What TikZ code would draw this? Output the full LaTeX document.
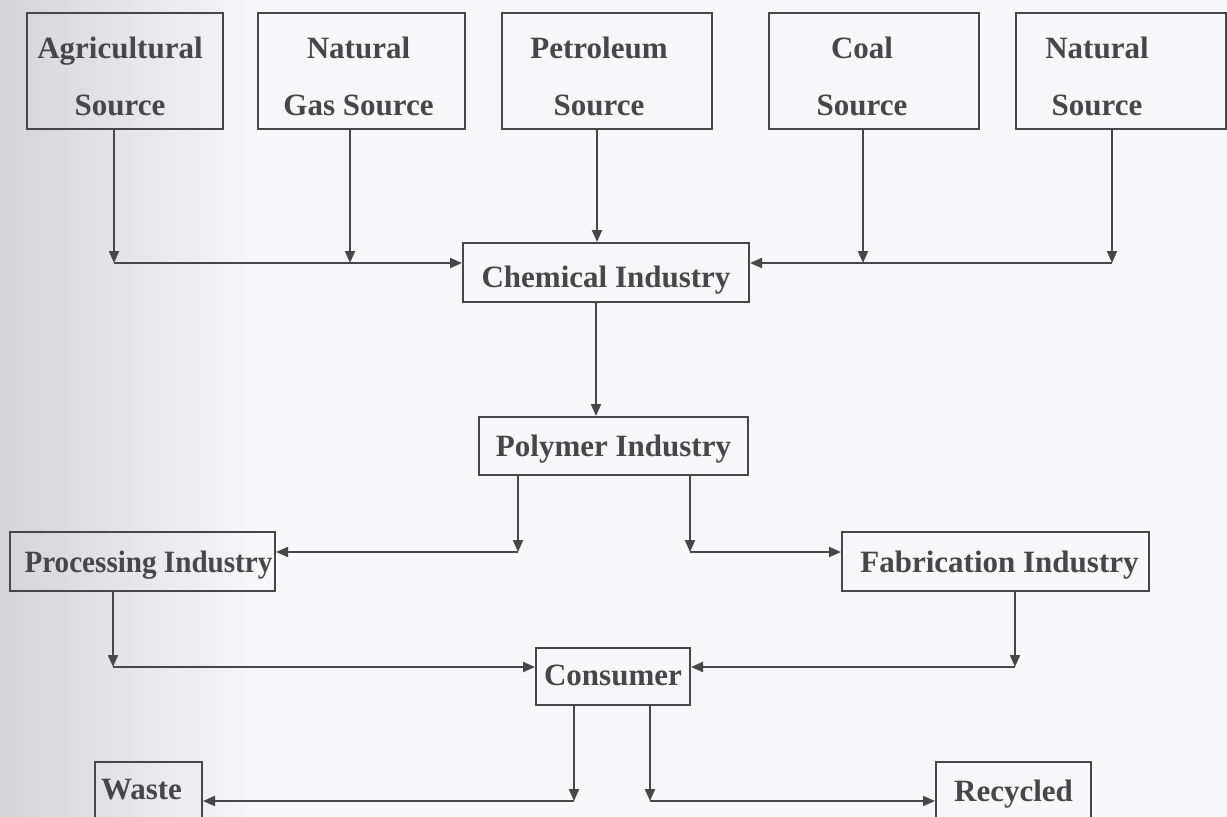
\documentclass[tikz,border=0pt]{standalone}
\usepackage{fontspec}
\setmainfont{Liberation Serif}
\usetikzlibrary{arrows.meta}
\definecolor{ink}{HTML}{474747}
\definecolor{paper}{HTML}{F7F7F9}
\definecolor{paperdark}{HTML}{D4D4D9}
\tikzset{
  box/.style={draw=ink, line width=2pt, rectangle, inner sep=0pt},
  lbl/.style={text=ink, font=\bfseries\fontsize{31}{57}\selectfont, inner sep=0pt},
  lblone/.style={lbl, text height=21pt, text depth=0pt},
  lbltwo/.style={lbl, align=center, yshift=-5.5pt},
  conn/.style={draw=ink, line width=2pt},
  arr/.style={conn, -{Triangle[length=12pt,width=10pt]}},
}
\begin{document}
\begin{tikzpicture}[x=1pt,y=-1pt]
\useasboundingbox (0,0) rectangle (1227,817);
\clip (0,0) rectangle (1227,817);
\fill[paper] (0,0) rectangle (1227,817);
\shade[left color=paperdark, right color=paper] (0,0) rectangle (260,817);

% top row sources
\node[box, minimum width=196pt, minimum height=116pt,
  label={[lbltwo, xshift=-5pt]center:{Agricultural\\Source}}] (agri) at (125,71) {};
\node[box, minimum width=207pt, minimum height=116pt,
  label={[lbltwo, xshift=-3pt]center:{Natural\\Gas Source}}] (gas) at (361.5,71) {};
\node[box, minimum width=210pt, minimum height=116pt,
  label={[lbltwo, xshift=-8pt]center:{Petroleum\\Source}}] (petro) at (607,71) {};
\node[box, minimum width=210pt, minimum height=116pt,
  label={[lbltwo, xshift=-12pt]center:{Coal\\Source}}] (coal) at (874,71) {};
\node[box, minimum width=210pt, minimum height=116pt,
  label={[lbltwo, xshift=-24pt]center:{Natural\\Source}}] (nat) at (1121,71) {};

% middle and bottom
\node[box, minimum width=286pt, minimum height=59pt,
  label={[lblone, yshift=-4pt]center:Chemical Industry}] (chem) at (606,272.5) {};
\node[box, minimum width=269pt, minimum height=58pt,
  label={[lblone]center:Polymer Industry}] (poly) at (613.5,446) {};
\node[box, minimum width=265pt, minimum height=59pt,
  label={[lblone, xshift=6pt]center:\scalebox{0.94}[1]{Processing Industry}}] (proc) at (142.5,561.5) {};
\node[box, minimum width=307pt, minimum height=59pt,
  label={[lblone, xshift=4pt]center:Fabrication Industry}] (fab) at (995.5,561.5) {};
\node[box, minimum width=154pt, minimum height=57pt,
  label={[lblone, yshift=2pt]center:Consumer}] (cons) at (613,676.5) {};
\node[box, minimum width=107pt, minimum height=58pt,
  label={[lblone, xshift=-7pt, yshift=2pt]center:Waste}] (waste) at (148.5,791) {};
\node[box, minimum width=155pt, minimum height=58pt,
  label={[lblone]center:Recycled}] (recy) at (1013.5,791) {};

% junction coordinates
\coordinate (jA) at (114,263);
\coordinate (jG) at (350,263);
\coordinate (jC) at (863,263);
\coordinate (jN) at (1112,263);
\coordinate (jPL) at (518,552);
\coordinate (jPR) at (690,552);
\coordinate (jPrD) at (113,667);
\coordinate (jFD) at (1015,667);
\coordinate (jCW) at (574,801);
\coordinate (jCR) at (650,801);

% sources to chemical industry
\draw[arr] (agri.south -| jA) -- (jA);
\draw[arr] (gas.south -| jG) -- (jG);
\draw[arr] (jA) -- (chem.west |- jA);
\draw[arr] (petro.south -| 597,0) -- (chem.north -| 597,0);
\draw[arr] (coal.south -| jC) -- (jC);
\draw[arr] (nat.south -| jN) -- (jN);
\draw[arr] (jN) -- (chem.east |- jN);

% chemical to polymer
\draw[arr] (chem.south -| 596,0) -- (poly.north -| 596,0);

% polymer to processing / fabrication
\draw[arr] (poly.south -| jPL) -- (jPL);
\draw[arr] (jPL) -- (proc.east |- jPL);
\draw[arr] (poly.south -| jPR) -- (jPR);
\draw[arr] (jPR) -- (fab.west |- jPR);

% processing / fabrication to consumer
\draw[arr] (proc.south -| jPrD) -- (jPrD);
\draw[arr] (jPrD) -- (cons.west |- jPrD);
\draw[arr] (fab.south -| jFD) -- (jFD);
\draw[arr] (jFD) -- (cons.east |- jFD);

% consumer to waste / recycled
\draw[arr] (cons.south -| jCW) -- (jCW);
\draw[arr] (jCW) -- (waste.east |- jCW);
\draw[arr] (cons.south -| jCR) -- (jCR);
\draw[arr] (jCR) -- (recy.west |- jCR);
\end{tikzpicture}
\end{document}
